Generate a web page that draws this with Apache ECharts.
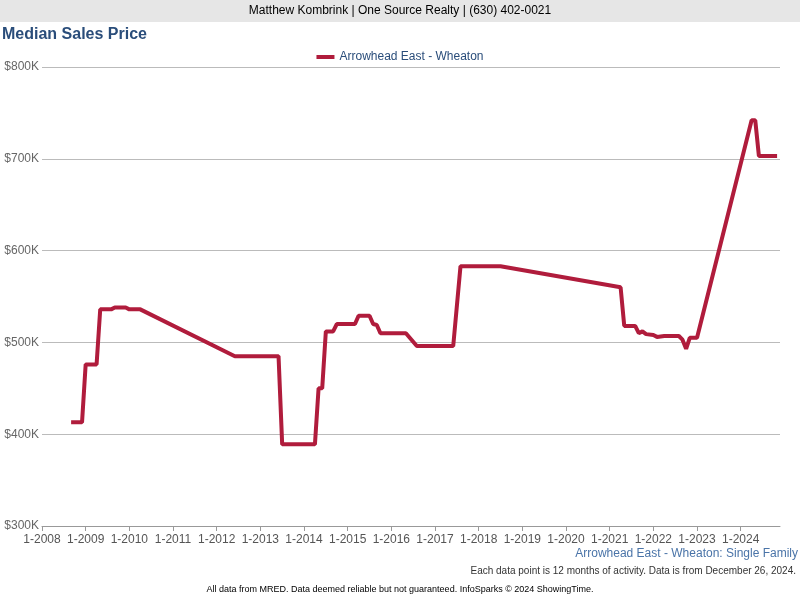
<!DOCTYPE html>
<html>
<head>
<meta charset="utf-8">
<script src="https://cdn.jsdelivr.net/npm/echarts@6/dist/echarts.min.js"></script>
<style>
html,body{margin:0;padding:0;background:#fff;}
#chart{width:800px;height:600px;}
</style>
</head>
<body>
<div id="chart"></div>
<script>
/*----- data -----*/
var months = ['2008-09','2008-12','2009-01','2009-04','2009-05','2009-08','2009-09','2009-12','2010-01','2010-04',
	'2012-06','2013-06','2013-07','2014-04','2014-05','2014-06','2014-07','2014-09','2014-10','2015-03',
	'2015-04','2015-07','2015-08','2015-09','2015-10','2016-05','2016-08','2017-06','2017-08','2018-07',
	'2021-04','2021-05','2021-08','2021-09','2021-10','2021-11','2022-01','2022-02','2022-04','2022-08',
	'2022-09','2022-10','2022-11','2023-01','2024-04','2024-05','2024-06','2024-11'];
var prices = [413,413,476,476,536,536,538,538,536,536,
	485,485,389,389,450,450,512,512,520,520,
	529,529,520,519,510,510,496,496,583,583,
	560,518,518,510,512,509,508,506,507,507,
	503,493,505,505,742,742,703,703];
var seriesName = 'Arrowhead East - Wheaton';

var points = [];
for(var i = 0; i < months.length; i++){
	var p = months[i].split('-');
	points.push([parseInt(p[0]) + (parseInt(p[1]) - 1) / 12, prices[i] * 1000]);
}

var option = {
	animation: false,
	textStyle: {fontFamily: 'Liberation Sans, Arial, sans-serif'},
	graphic: [
		{type: 'rect', shape: {x: 0, y: 0, width: 800, height: 22}, style: {fill: '#e6e6e6'}},
		{type: 'text', left: 'center', top: 5, style: {text: 'Matthew Kombrink | One Source Realty | (630) 402-0021', fill: '#000', font: '12px Liberation Sans, Arial'}},
		{type: 'text', left: 2, top: 27, style: {text: 'Median Sales Price', fill: '#2a4d7a', font: 'bold 16px Liberation Sans, Arial'}},
		{type: 'text', right: 2, top: 548, style: {text: 'Arrowhead East - Wheaton: Single Family', fill: '#4a74a8', font: '12px Liberation Sans, Arial'}},
		{type: 'text', right: 4, top: 566, style: {text: 'Each data point is 12 months of activity. Data is from December 26, 2024.', fill: '#333', font: '10px Liberation Sans, Arial'}},
		{type: 'text', left: 'center', top: 585, style: {text: 'All data from MRED. Data deemed reliable but not guaranteed. InfoSparks \u00a9 2024 ShowingTime.', fill: '#000', font: '9px Liberation Sans, Arial'}}
	],
	legend: {
		top: 46,
		left: 'center',
		itemWidth: 18,
		itemHeight: 4,
		icon: 'rect',
		textStyle: {color: '#2a4d7a', fontSize: 12},
		data: [seriesName]
	},
	grid: {left: 42, right: 20, top: 67, bottom: 74},
	xAxis: {
		type: 'value',
		min: 2008,
		max: 2024.9,
		interval: 1,
		axisLine: {lineStyle: {color: '#999'}},
		axisTick: {show: true, lineStyle: {color: '#999'}},
		axisLabel: {color: '#555', fontSize: 12, formatter: function(v){ return '1-' + v; }, showMaxLabel: false},
		splitLine: {show: false}
	},
	yAxis: {
		type: 'value',
		min: 300000,
		max: 800000,
		interval: 100000,
		axisLine: {show: false},
		axisTick: {show: false},
		axisLabel: {color: '#666', fontSize: 12, margin: 3, formatter: function(v){ return '$' + (v / 1000) + 'K'; }},
		splitLine: {lineStyle: {color: '#bbb'}}
	},
	series: [{
		name: seriesName,
		type: 'line',
		data: points,
		showSymbol: false,
		lineStyle: {color: '#b01c3c', width: 4},
		itemStyle: {color: '#b01c3c'}
	}]
};
echarts.init(document.getElementById('chart')).setOption(option, true);
</script>
</body>
</html>
